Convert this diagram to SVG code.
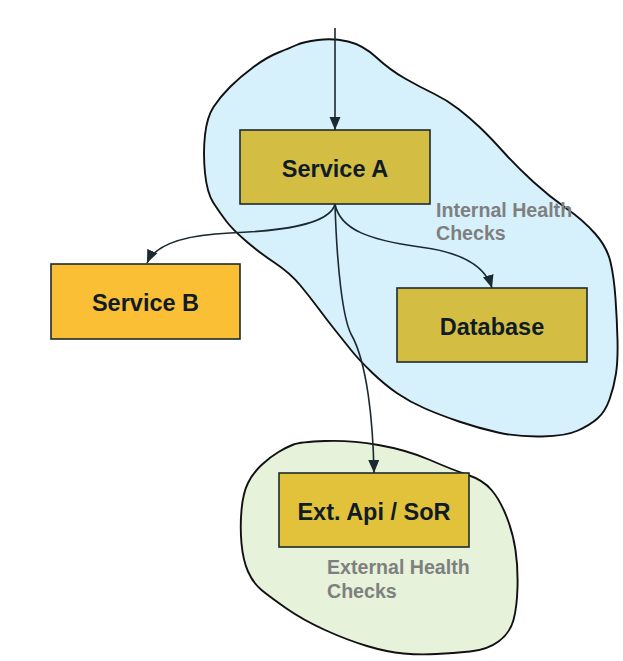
<svg xmlns="http://www.w3.org/2000/svg" width="623" height="661" viewBox="0 0 623 661">
<style>
.blob{stroke:#111;stroke-width:1.9;stroke-linejoin:round}
.box{stroke:#1d2b2e;stroke-width:1.6}
.lbl{font-family:"Liberation Sans",Arial,sans-serif;font-weight:bold;font-size:23.5px;fill:#0f1c28;text-anchor:middle}
.note{font-family:"Liberation Sans",Arial,sans-serif;font-weight:bold;font-size:19.6px;fill:#7f7f7f}
.conn{fill:none;stroke:#1a2a30;stroke-width:1.6}
</style>
<defs>
<marker id="ah" markerUnits="userSpaceOnUse" markerWidth="14" markerHeight="12" refX="13" refY="6" orient="auto">
<path d="M0,0.5 L13,6 L0,11.5 z" fill="#1a2a30"/>
</marker>
</defs>
<rect width="623" height="661" fill="#fff"/>
<g id="internal-zone">
<path class="blob" fill="#d6f1fb" d="M318,40 Q333,38 348,41.5 Q363,45 376.5,57.5 Q390,70 405,78.5 Q420,87 433.5,93.5 Q447,100 458.5,109 Q470,118 480,127.5 Q490,137 503.5,152 Q517,167 533.5,182 Q550,197 566.5,208.5 Q583,220 595,233.5 Q607,247 610.5,262 Q614,277 615.5,298.5 Q617,320 617.5,340 Q618,360 616,373.5 Q614,387 609.5,399.5 Q605,412 597.5,418.5 Q590,425 578,430.5 Q566,436 542,436.5 Q518,437 498,432.5 Q478,428 459,421.5 Q440,415 425,408.5 Q410,402 397.5,393.5 Q385,385 372,372.5 Q359,360 351,350 Q343,340 335,330 Q327,320 318.5,308.5 Q310,297 300,285 Q290,273 275,263 Q260,253 246.5,241.5 Q233,230 226.5,221.5 Q220,213 213.5,203 Q207,193 205,173 Q203,153 205,135 Q207,117 213.5,107 Q220,97 230,87 Q240,77 253.5,67 Q267,57 278.5,52.5 Q290,48 296.5,45 Q303,42 318,40 Z"/>
<text class="note" x="436" y="217">Internal Health</text>
<text class="note" x="436" y="240">Checks</text>
</g>
<g id="external-zone">
<path class="blob" fill="#e6f2d9" d="M325,441 Q350,440 378.5,445 Q407,450 430,460 Q453,470 468,475 Q483,480 491.5,490 Q500,500 506.5,516.5 Q513,533 515.5,550 Q518,567 517.5,587 Q517,607 513.5,620 Q510,633 498.5,641.5 Q487,650 470,651.5 Q453,653 436.5,654 Q420,655 403.5,653.5 Q387,652 367,646 Q347,640 325,630 Q303,620 286.5,608.5 Q270,597 261.5,590 Q253,583 248,571.5 Q243,560 241.5,543.5 Q240,527 241.5,510 Q243,493 248,483 Q253,473 261.5,465 Q270,457 278.5,452 Q287,447 293.5,444.5 Q300,442 325,441 Z"/>
<text class="note" x="327" y="574">External Health</text>
<text class="note" x="327" y="598">Checks</text>
</g>
<g id="connectors">
<path class="conn" d="M335,28 L335,130" marker-end="url(#ah)"/>
<path class="conn" d="M335,204 C330,225 280,231 230,233 C185,235 155,245 147,263" marker-end="url(#ah)"/>
<path class="conn" d="M335,204 C340,230 370,240 420,247 C460,252 485,265 492,288" marker-end="url(#ah)"/>
<path class="conn" d="M335,204 C337,270 343,318 351,334 C367,362 373,420 374,473" marker-end="url(#ah)"/>
</g>
<g id="service-a">
<rect class="box" x="240" y="130" width="190" height="74" fill="#d4bd43"/>
<text class="lbl" x="335" y="177">Service A</text>
</g>
<g id="service-b">
<rect class="box" x="51" y="264" width="189" height="75" fill="#fbbf36"/>
<text class="lbl" x="145.5" y="311">Service B</text>
</g>
<g id="database">
<rect class="box" x="397" y="288" width="190" height="74" fill="#d4bd43"/>
<text class="lbl" x="492" y="335">Database</text>
</g>
<g id="ext-api">
<rect class="box" x="279" y="473" width="190" height="74" fill="#e3c23b"/>
<text class="lbl" x="374" y="520">Ext. Api / SoR</text>
</g>
</svg>
